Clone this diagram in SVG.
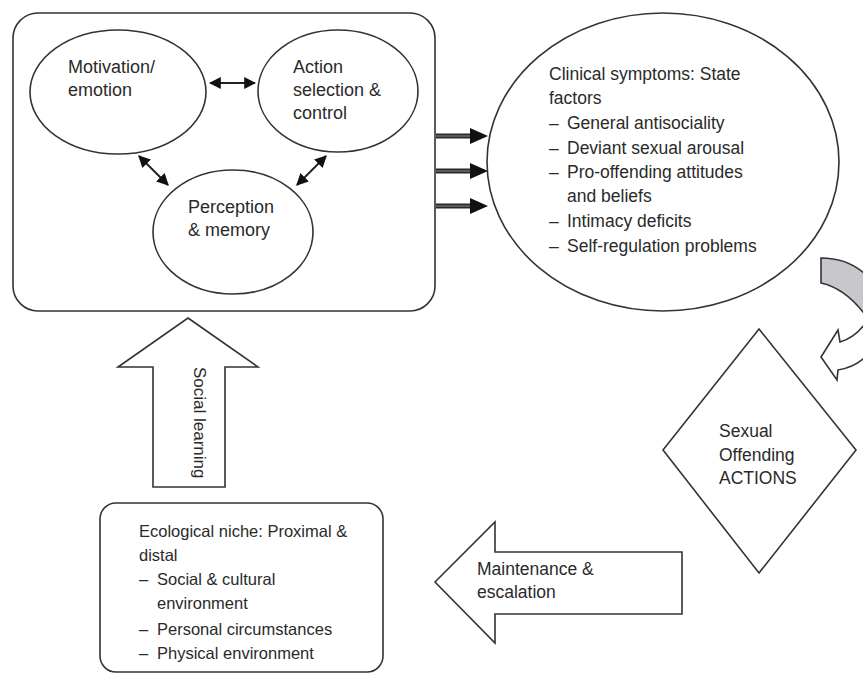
<svg xmlns="http://www.w3.org/2000/svg" width="863" height="674" viewBox="0 0 863 674">
<style>
.shape{fill:#fff;stroke:#333;stroke-width:1.6}
.t{font-family:"Liberation Sans",Arial,sans-serif;fill:#2a2a2a;font-size:17.5px}
.t18{font-size:18px}
.t16{font-size:16.5px}
.dbl{stroke:#222;stroke-width:2;fill:none;marker-start:url(#h);marker-end:url(#h)}
.thick{stroke:#2a2a2a;stroke-width:5;fill:none}
.mid{stroke:#8a8a8a;stroke-width:1;fill:none}
</style>
<defs>
<marker id="h" viewBox="0 0 10 10" refX="9" refY="5" markerWidth="6" markerHeight="6" orient="auto-start-reverse" markerUnits="strokeWidth">
<path d="M0,0 L10,5 L0,10 Z" fill="#111"/>
</marker>
</defs>
<rect width="863" height="674" fill="#fff"/>

<g id="mind-box">
<rect class="shape" x="13" y="13" width="422" height="298" rx="25"/>
</g>
<g id="motivation">
<ellipse class="shape" cx="118" cy="92" rx="88" ry="62"/>
<text class="t t18" x="68" y="73">Motivation/</text>
<text class="t t18" x="68" y="96">emotion</text>
</g>
<g id="action">
<ellipse class="shape" cx="338" cy="91" rx="80" ry="61"/>
<text class="t t18" x="293" y="73">Action</text>
<text class="t t18" x="293" y="96">selection &amp;</text>
<text class="t t18" x="293" y="119">control</text>
</g>
<g id="perception">
<ellipse class="shape" cx="233" cy="232" rx="80" ry="62"/>
<text class="t t18" x="188" y="213">Perception</text>
<text class="t t18" x="188" y="236">&amp; memory</text>
</g>

<g id="clinical">
<ellipse class="shape" cx="663" cy="162" rx="176" ry="149"/>
<text class="t" x="549" y="80">Clinical symptoms: State</text>
<text class="t" x="549" y="104">factors</text>
<text class="t" x="549" y="129">–</text><text class="t" x="567" y="129">General antisociality</text>
<text class="t" x="549" y="154">–</text><text class="t" x="567" y="154">Deviant sexual arousal</text>
<text class="t" x="549" y="178">–</text><text class="t" x="567" y="178">Pro-offending attitudes</text>
<text class="t" x="567" y="202">and beliefs</text>
<text class="t" x="549" y="227">–</text><text class="t" x="567" y="227">Intimacy deficits</text>
<text class="t" x="549" y="252">–</text><text class="t" x="567" y="252">Self-regulation problems</text>
</g>

<g id="actions">
<polygon class="shape" points="759,329 856,450 759,573 663,450"/>
<text class="t" x="719" y="437">Sexual</text>
<text class="t" x="719" y="461">Offending</text>
<text class="t" x="719" y="484">ACTIONS</text>
</g>

<g id="ecological">
<rect class="shape" x="100" y="503" width="283" height="169" rx="16"/>
<text class="t t16" x="139" y="537">Ecological niche: Proximal &amp;</text>
<text class="t t16" x="139" y="561">distal</text>
<text class="t t16" x="139" y="585">–</text><text class="t t16" x="157" y="585">Social &amp; cultural</text>
<text class="t t16" x="157" y="609">environment</text>
<text class="t t16" x="139" y="635">–</text><text class="t t16" x="157" y="635">Personal circumstances</text>
<text class="t t16" x="139" y="659">–</text><text class="t t16" x="157" y="659">Physical environment</text>
</g>

<g id="connectors">
<line class="dbl" x1="210" y1="83" x2="255" y2="83"/>
<line class="dbl" x1="139" y1="156" x2="168" y2="185"/>
<line class="dbl" x1="326" y1="156" x2="297" y2="185"/>

<g id="triple-arrows">
<line class="thick" x1="436" y1="136" x2="472" y2="136"/>
<line class="mid" x1="436" y1="136" x2="470" y2="136"/>
<polygon points="470,128 488,136 470,144" fill="#111"/>
<line class="thick" x1="436" y1="171" x2="472" y2="171"/>
<line class="mid" x1="436" y1="171" x2="470" y2="171"/>
<polygon points="470,163 488,171 470,179" fill="#111"/>
<line class="thick" x1="436" y1="206" x2="472" y2="206"/>
<line class="mid" x1="436" y1="206" x2="470" y2="206"/>
<polygon points="470,198 488,206 470,214" fill="#111"/>
</g>

<g id="curved-arrow">
<path d="M821,258 Q855,258 875,285 L875,330 Q852,290 821,283 Z" fill="#c8c8cc" stroke="#333" stroke-width="1.6"/>
<path class="shape" d="M875,306 Q862,336 840,342 L838,330 L821,357 L837,380 L838,370 Q862,366 875,345 Z"/>
</g>

<g id="social-learning">
<polygon class="shape" points="188,318 258,367 225,367 225,487 153,487 153,367 118,367"/>
<text class="t" x="367" y="-194" transform="rotate(90)" style="font-size:17px">Social learning</text>
</g>

<g id="maintenance">
<polygon class="shape" points="435,582 495,522 495,552 682,552 682,614 495,614 495,643"/>
<text class="t" x="477" y="575">Maintenance &amp;</text>
<text class="t" x="477" y="598">escalation</text>
</g>
</g>
</svg>
